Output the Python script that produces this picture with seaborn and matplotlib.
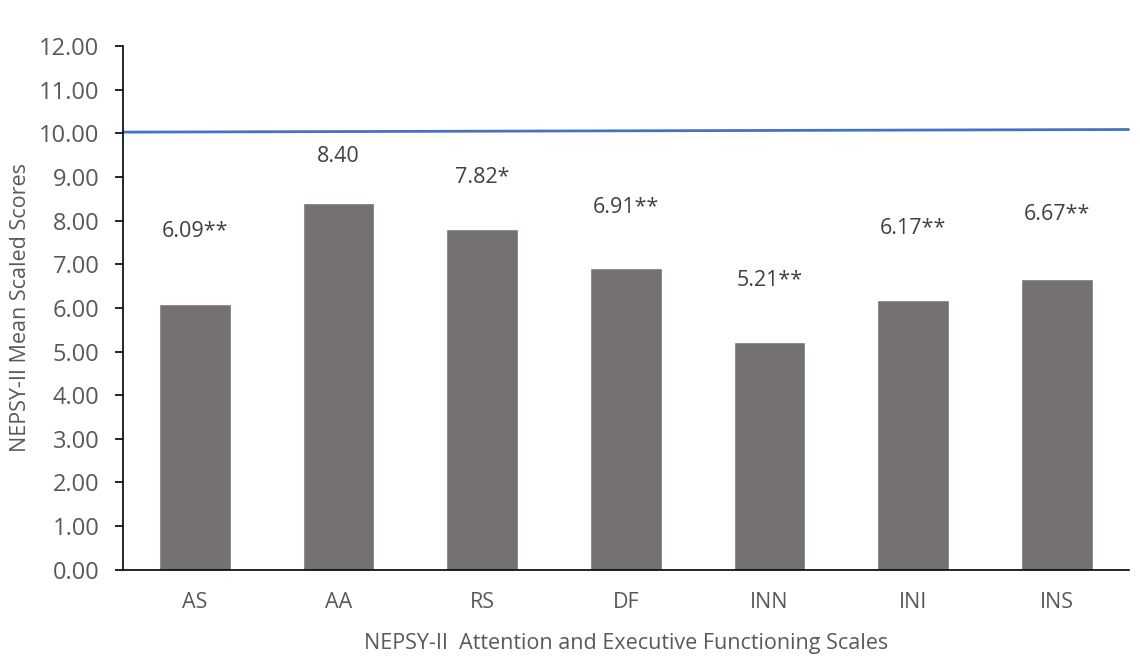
import pandas as pd
import seaborn as sns
import matplotlib.pyplot as plt

# NEPSY-II scales and mean scaled scores
scales = ["AS", "AA", "RS", "DF", "INN", "INI", "INS"]
scores = [6.09, 8.40, 7.82, 6.91, 5.21, 6.17, 6.67]
labels = ["6.09**", "8.40", "7.82*", "6.91**", "5.21**", "6.17**", "6.67**"]
# reference line (norm mean), left and right ends
norm_line = [10.03, 10.09]

# label heights above the bar tops (hand placed in original)
label_offsets = [1.65, 1.08, 1.16, 1.40, 1.41, 1.64, 1.48]

df = pd.DataFrame({"scale": scales, "score": scores})

sns.set_style("white")
plt.rcParams["font.family"] = ["Open Sans", "DejaVu Sans"]
text_col = "#595959"

fig, ax = plt.subplots(figsize=(11.4, 6.6), dpi=100)
fig.subplots_adjust(left=0.108, right=0.99, top=0.93, bottom=0.137)

sns.barplot(data=df, x="scale", y="score", color="#767171", saturation=1,
            width=0.5, ax=ax)

for i, (v, lab, off) in enumerate(zip(scores, labels, label_offsets)):
    ax.text(i, v + off, lab, ha="center", va="center", fontsize=15.5, color="#404040")

ax.plot([-0.5, len(scales) - 0.5], norm_line, color="#4472C4", lw=2, clip_on=False)

ax.set_xlim(-0.5, len(scales) - 0.5)
ax.set_ylim(0, 12)
ax.set_yticks(range(0, 13))
ax.set_yticklabels([f"{t:.2f}" for t in range(0, 13)])

ax.set_xlabel("NEPSY-II  Attention and Executive Functioning Scales",
              fontsize=15.5, color=text_col, labelpad=14)
ax.set_ylabel("NEPSY-II Mean Scaled Scores", fontsize=15.5, color=text_col, labelpad=6)

ax.tick_params(axis="y", which="major", left=True, length=6, width=1.2,
               color="black", labelsize=17, labelcolor=text_col, pad=11)
ax.tick_params(axis="x", bottom=False, labelsize=15.5, labelcolor=text_col, pad=13)

for side in ["top", "right"]:
    ax.spines[side].set_visible(False)
for side in ["left", "bottom"]:
    ax.spines[side].set_color("black")
    ax.spines[side].set_linewidth(1.2)

plt.savefig("out.png")
